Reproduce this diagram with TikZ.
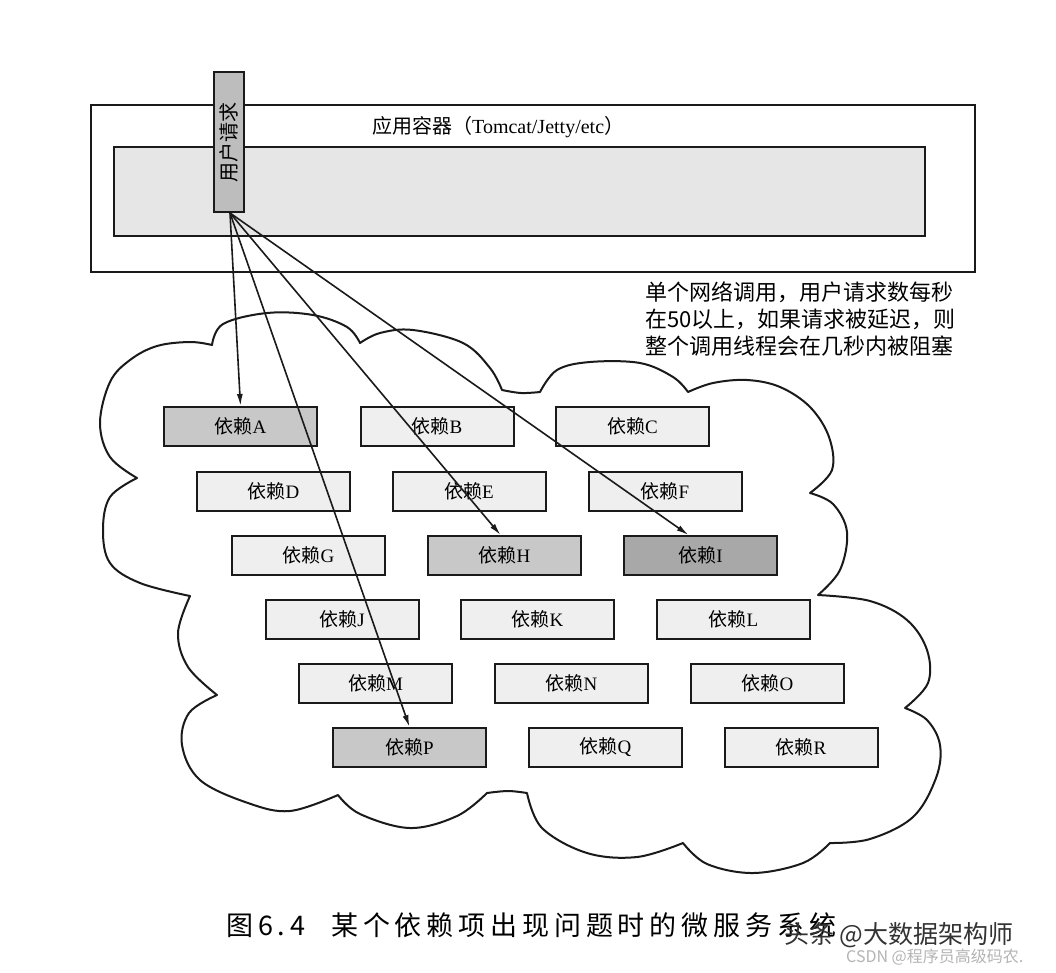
\documentclass[tikz,border=0pt]{standalone}
\usepackage{fontspec}
\setmainfont{Liberation Serif}
\newfontfamily\cjk{Noto Sans CJK SC}
\newfontfamily\cjkcap[LetterSpace=18]{Noto Sans CJK SC}
\newfontfamily\wmfont{Noto Sans CJK SC}
\usetikzlibrary{arrows.meta,calc}
\definecolor{linec}{HTML}{1A1A1A}
\definecolor{boxlight}{HTML}{EFEFEF}
\definecolor{boxmid}{HTML}{C8C8C8}
\definecolor{boxdark}{HTML}{A8A8A8}
\definecolor{innerfill}{HTML}{E6E6E6}
\definecolor{reqfill}{HTML}{BDBDBD}
\definecolor{wmgray}{HTML}{B4B4B4}
\tikzset{
  depbox/.style={draw=linec, line width=2pt, fill=boxlight, minimum width=153, minimum height=39,
    inner sep=0pt, font=\fontsize{19}{21}\selectfont},
  depmid/.style={depbox, fill=boxmid},
  depdark/.style={depbox, fill=boxdark},
  frame/.style={draw=linec, line width=1.8pt, inner sep=0pt},
  callarrow/.style={draw=linec, line width=1.6pt, -{Latex[length=12pt,width=6pt]}},
  cloudline/.style={draw=linec, line width=2pt, line join=round}
}
\newcommand{\dep}[1]{{\cjk 依赖}#1}
\begin{document}
\begin{tikzpicture}[x=1pt,y=-1pt]
\useasboundingbox[fill=white] (0,0) rectangle (1056,972);

% application container
\node[frame, minimum width=884, minimum height=167] (app) at (533,188.5) {};
\node[frame, fill=innerfill, minimum width=811, minimum height=89] (inner) at (519.5,191.5) {};
\node[anchor=west, inner sep=0pt, font=\fontsize{20}{22}\selectfont] (title) at (372,127) {{\cjk 应用容器（}Tomcat/Jetty/etc{\cjk ）}};

% user request
\node[frame, line width=2pt, fill=reqfill, rotate=90, minimum width=140, minimum height=30,
  font=\cjk\fontsize{20}{21}\selectfont] (req) at (229,142) {用户请求};

% note
\node[anchor=north west, align=left, inner sep=0pt,
  font=\cjk\fontsize{22}{27}\selectfont] (note) at (645,282)
  {单个网络调用，用户请求数每秒\\在50以上，如果请求被延迟，则\\整个调用线程会在几秒内被阻塞};

% cloud
\draw[cloudline]
  plot[smooth,tension=0.6] coordinates {(212,345) (223,324) (267,313) (313,315) (347,327) (360,343)}
  -- plot[smooth,tension=0.6] coordinates {(360,343) (380,333) (413,330) (463,343) (490,368) (502,390)}
  -- plot[smooth,tension=0.6] coordinates {(502,390) (521,393) (540,392)}
  -- plot[smooth,tension=0.6] coordinates {(540,392) (557,370) (590,362) (640,363) (673,377) (688,392)}
  -- plot[smooth,tension=0.6] coordinates {(688,392) (713,383) (747,380) (780,387) (810,407) (829,437) (832,470) (810,493)}
  -- plot[smooth,tension=0.6] coordinates {(810,493) (833,504) (847,532) (840,570) (818,595)}
  -- plot[smooth,tension=0.6] coordinates {(818,595) (870,601) (907,620) (927,650) (928,683) (905,708)}
  -- plot[smooth,tension=0.6] coordinates {(905,708) (927,720) (940,745) (936,778) (913,817) (870,839) (830,843)}
  -- plot[smooth,tension=0.6] coordinates {(830,843) (803,863) (753,873) (707,864) (683,843)}
  -- plot[smooth,tension=0.6] coordinates {(683,843) (637,857) (587,853) (542,828) (527,793)}
  -- plot[smooth,tension=0.6] coordinates {(527,793) (508,791) (487,793)}
  -- plot[smooth,tension=0.6] coordinates {(487,793) (457,816) (410,828) (360,814) (338,795)}
  -- plot[smooth,tension=0.6] coordinates {(338,795) (290,811) (248,803) (200,780) (182,745) (189,713) (217,695)}
  -- plot[smooth,tension=0.6] coordinates {(217,695) (188,667) (178,633) (190,596)}
  -- plot[smooth,tension=0.6] coordinates {(190,596) (140,583) (110,563) (103,530) (110,497) (137,478)}
  -- plot[smooth,tension=0.6] coordinates {(137,478) (110,457) (100,423) (110,382) (130,360) (157,346) (190,342) (212,345)}
  -- cycle;

% dependencies
\node[depmid]  (A) at (240.5,426.5) {\dep{A}};
\node[depbox]  (B) at (437,426.5)   {\dep{B}};
\node[depbox]  (C) at (632.5,426.5) {\dep{C}};
\node[depbox]  (D) at (273.5,491)   {\dep{D}};
\node[depbox]  (E) at (469,491)     {\dep{E}};
\node[depbox]  (F) at (665,491)     {\dep{F}};
\node[depbox]  (G) at (308.5,555.5) {\dep{G}};
\node[depmid]  (H) at (504.5,555.5) {\dep{H}};
\node[depdark] (I) at (700.5,555.5) {\dep{I}};
\node[depbox]  (J) at (342,619)     {\dep{J}};
\node[depbox]  (K) at (537.5,619)   {\dep{K}};
\node[depbox]  (L) at (733.5,619)   {\dep{L}};
\node[depbox]  (M) at (375.5,683.5) {\dep{M}};
\node[depbox]  (N) at (571.5,683.5) {\dep{N}};
\node[depbox]  (O) at (767.5,683.5) {\dep{O}};
\node[depmid]  (P) at (409.5,747.5) {\dep{P}};
\node[depbox]  (Q) at (605.5,747.5) {\dep{Q}};
\node[depbox]  (R) at (801,747.5)   {\dep{R}};

% calls
\coordinate (src) at ($(req.west)+(1,0)$);
\draw[callarrow] (src) -- (A.north);
\draw[callarrow] (src) -- (P.north);
\draw[callarrow] (src) -- ($(H.north)+(-4,0)$);
\draw[callarrow] (src) -- ($(I.north)+(-12,0)$);

% caption
\node[anchor=west, inner sep=0pt, font=\cjkcap\fontsize{27}{30}\selectfont] (cap) at (226,925)
  {图6.4\hspace{26pt}某个依赖项出现问题时的微服务系统};

% watermarks
\node[anchor=west, inner sep=0pt, text=black!80, font=\wmfont\fontsize{25}{28}\selectfont] (wm1) at (784,935)
  {头条 @大数据架构师};
\node[anchor=west, inner sep=0pt, text=wmgray, font=\wmfont\fontsize{16}{18}\selectfont] (wm2) at (846,957)
  {CSDN @程序员高级码农.};
\end{tikzpicture}
\end{document}
